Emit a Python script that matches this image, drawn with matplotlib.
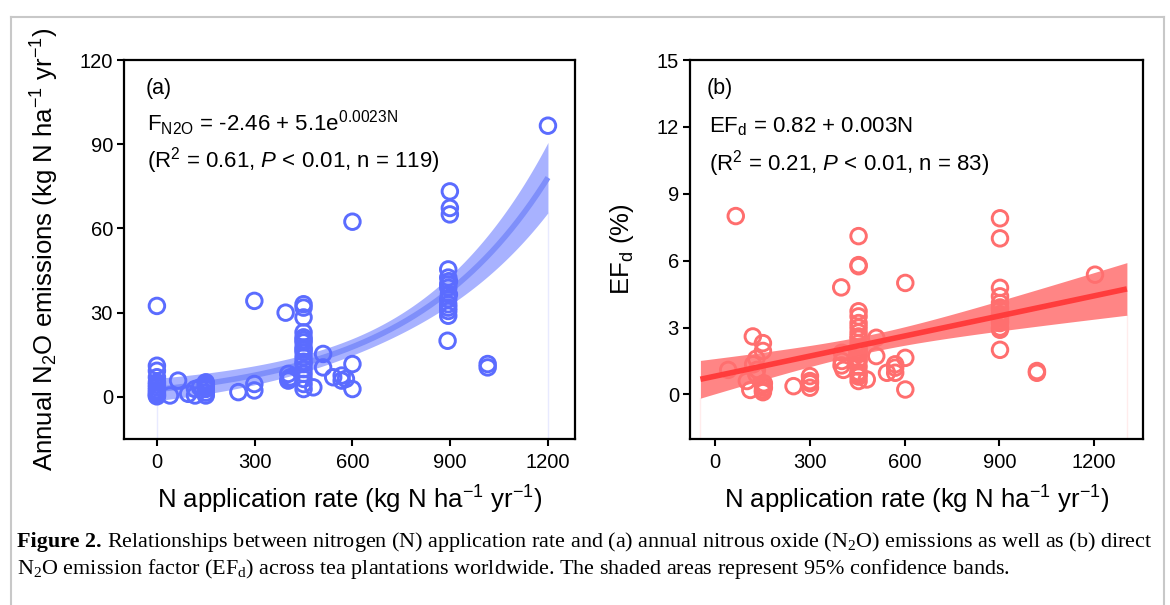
import numpy as np
import matplotlib
matplotlib.use("Agg")
import matplotlib.pyplot as plt
from matplotlib import font_manager as fm
from matplotlib.lines import Line2D

# ---------------- data ----------------
# (a) annual N2O emissions vs N rate
a_x = [0, 0, 0, 0, 0, 0, 0, 0, 0, 0, 0, 0,
       40, 65, 96, 117, 117, 132, 150, 150, 150, 150, 150, 150,
       250, 299, 299, 299,
       395, 403, 403, 410, 405,
       450, 450, 450, 450, 450, 450, 450, 450, 450, 450, 450, 450, 450, 450, 450, 450, 450, 450,
       480, 510, 510, 541, 567, 567, 580, 600, 600, 600,
       899, 899, 899, 894, 894, 894, 894, 894, 894, 894, 894, 894, 892, 896, 896,
       1015, 1015, 1200]
a_y = [32.4, 11.1, 9.3, 7.0, 5.2, 3.4, 1.7, 0.5, 0.2, 2.5, 4.3, 1.0,
       0.5, 5.8, 1.1, 2.8, 0.5, 3.4, 5.2, 2.8, 0.5, 4.3, 1.5, 3.6,
       1.7, 34.2, 4.6, 2.3,
       30.0, 8.2, 5.8, 7.0, 6.5,
       33.0, 31.8, 28.3, 23.0, 21.2, 19.4, 17.6, 15.9, 14.1, 11.7, 9.9, 8.2, 6.4, 4.6, 2.8, 12.5, 20.3, 16.8,
       3.4, 15.3, 10.5, 7.0, 7.6, 5.8, 6.4, 62.4, 11.7, 2.8,
       73.2, 67.3, 65.0, 45.4, 42.5, 40.1, 38.9, 34.8, 33.0, 31.8, 30.6, 28.9, 20.0, 36.5, 41.2,
       11.7, 10.5, 96.6]
a_coef = (-2.46, 5.1, 0.0023)   # F = a + b*exp(c*N)

# (b) direct emission factor EFd (%) vs N rate
b_x = [65, 41, 119, 151, 151, 120, 132, 100, 111, 151, 151, 151, 154, 154, 130, 130,
       248, 300, 300, 300, 300,
       399, 401, 401, 406, 400,
       454, 454, 454, 454, 454, 454, 454, 454, 454, 454, 454, 454, 454, 454, 454,
       454, 454, 454, 454, 454, 454, 454,
       480, 510, 510, 544, 570, 570, 570, 602, 602, 602,
       902, 902, 902, 902, 902, 902, 902, 902, 902, 902, 902, 902, 902, 902, 902,
       1019, 1019, 1203]
b_y = [8.0, 1.1, 2.6, 2.3, 1.95, 1.35, 1.1, 0.6, 0.2, 0.4, 0.2, 0.1, 0.3, 0.5, 0.9, 1.6,
       0.37, 0.82, 0.6, 0.3, 0.5,
       4.8, 1.87, 1.5, 1.1, 1.3,
       7.1, 5.8, 5.75, 3.73, 3.5, 3.2, 2.78, 2.5, 2.3, 2.0, 1.8, 1.5, 1.25, 0.9, 0.6,
       2.1, 2.6, 3.0, 1.9, 1.6, 1.0, 0.8,
       0.67, 2.54, 1.72, 0.97, 1.35, 0.97, 1.2, 5.0, 1.64, 0.22,
       7.9, 7.0, 4.78, 4.4, 4.1, 3.8, 3.5, 3.2, 3.0, 2.0, 3.3, 3.6, 3.4, 3.9, 2.9,
       0.97, 1.05, 5.37]
b_coef = (0.82, 0.003)          # EFd = a + b*N

x_ticks = [0, 300, 600, 900, 1200]
a_yticks = [0, 30, 60, 90, 120]
b_yticks = [0, 3, 6, 9, 12, 15]

# ---------------- fonts ----------------
names = {f.name for f in fm.fontManager.ttflist}
SANS = "Liberation Sans Narrow" if "Liberation Sans Narrow" in names else "Liberation Sans"
NARROW = SANS.endswith("Narrow")
SERIF = "Liberation Serif"
plt.rcParams["font.family"] = [SANS, "DejaVu Sans"]
plt.rcParams["mathtext.fontset"] = "custom"
plt.rcParams["mathtext.default"] = "regular"
plt.rcParams["mathtext.rm"] = SANS
plt.rcParams["mathtext.it"] = SANS + ":italic"
plt.rcParams["mathtext.bf"] = SERIF + ":bold"

tick_fs = 17.5 if NARROW else 14.5
eq_fs = 19.5 if NARROW else 16
lab_fs = 18 if NARROW else 15.5
xlab_fs = 22.5 if NARROW else 18.5
ylab_fs = 18.5

# ---------------- figure ----------------
W, H = 1170, 605
fig = plt.figure(figsize=(W / 100, H / 100), dpi=100)
ax1 = fig.add_axes([124 / W, 1 - 439 / H, 451 / W, 379 / H])
ax2 = fig.add_axes([690 / W, 1 - 439 / H, 453 / W, 379 / H])


def ci_halfwidth(x, y, basis, xs, t=1.98):
    x = np.asarray(x, float)
    y = np.asarray(y, float)
    X = basis(x)
    beta, *_ = np.linalg.lstsq(X, y, rcond=None)
    r = y - X @ beta
    s2 = (r @ r) / (len(y) - X.shape[1])
    cov = s2 * np.linalg.inv(X.T @ X)
    Xs = basis(xs)
    return t * np.sqrt(np.einsum("ij,jk,ik->i", Xs, cov, Xs))


def style(ax, xlim, ylim, yticks):
    ax.set_xlim(*xlim)
    ax.set_ylim(*ylim)
    ax.set_xticks(x_ticks)
    ax.set_yticks(yticks)
    for s in ax.spines.values():
        s.set_linewidth(1.6)
    ax.tick_params(direction="out", length=5, width=1.5, labelsize=tick_fs,
                   pad=3, top=False, right=False)
    ax.tick_params(axis="x", pad=5)


# ---- panel (a)
ca, cb, cc = a_coef
xs_a = np.linspace(0, 1200, 300)
fit_a = ca + cb * np.exp(cc * xs_a)
hw_a = ci_halfwidth(a_x, a_y, lambda v: np.column_stack([np.ones_like(v), np.exp(cc * v)]), xs_a)
ax1.fill_between(xs_a, fit_a - hw_a, fit_a + hw_a, color="#A8B2FF", lw=0, zorder=1)
ax1.plot([0, 0], [-15, fit_a[0] - hw_a[0]], color="#E8EAFF", lw=1, zorder=0.5)
ax1.plot([1200, 1200], [-15, fit_a[-1] - hw_a[-1]], color="#E8EAFF", lw=1, zorder=0.5)
ax1.scatter(a_x, a_y, s=125, facecolors="none", edgecolors="#5B6CFF", linewidths=2.1, zorder=3)
ax1.plot(xs_a, fit_a, color="#7F8FFA", lw=4, zorder=2, solid_capstyle="butt")
style(ax1, (-101, 1283), (-15, 120), a_yticks)
ax1.text(0.047, 0.926, "(a)", transform=ax1.transAxes, fontsize=lab_fs, va="center", ha="left")
ax1.text(0.05, 0.834, r"F$_{N2O}$ = -2.46 + 5.1e$^{0.0023N}$", transform=ax1.transAxes,
         fontsize=eq_fs, va="center", ha="left")
ax1.text(0.05, 0.736, r"(R$^2$ = 0.61, $\mathit{P}$ < 0.01, n = 119)", transform=ax1.transAxes,
         fontsize=eq_fs, va="center", ha="left")
ax1.set_xlabel(r"N application rate (kg N ha$^{-1}$ yr$^{-1}$)", fontsize=xlab_fs)
ax1.set_ylabel(r"Annual N$_2$O emissions (kg N ha$^{-1}$ yr$^{-1}$)", fontsize=ylab_fs,
               family=["Liberation Sans", "DejaVu Sans"])

# ---- panel (b)
ea, eb = b_coef
xs_b = np.linspace(-47, 1304, 300)
fit_b = ea + eb * xs_b
hw_b = ci_halfwidth(b_x, b_y, lambda v: np.column_stack([np.ones_like(v), v]), xs_b)
ax2.scatter(b_x, b_y, s=125, facecolors="none", edgecolors="#FF6E6E", linewidths=2.1, zorder=1)
ax2.fill_between(xs_b, fit_b - hw_b, fit_b + hw_b, color="#FF7070", alpha=0.85, lw=0, zorder=2)
ax2.plot([-47, -47], [-2, fit_b[0] - hw_b[0]], color="#FFECEC", lw=1, zorder=0.5)
ax2.plot([1304, 1304], [-2, fit_b[-1] - hw_b[-1]], color="#FFECEC", lw=1, zorder=0.5)
ax2.plot(xs_b, fit_b, color="#FF3C3C", lw=4, zorder=3, solid_capstyle="butt")
style(ax2, (-80, 1355), (-2, 15), b_yticks)
ax2.text(0.0375, 0.926, "(b)", transform=ax2.transAxes, fontsize=lab_fs, va="center", ha="left")
ax2.text(0.042, 0.823, r"EF$_d$ = 0.82 + 0.003N", transform=ax2.transAxes,
         fontsize=eq_fs, va="center", ha="left")
ax2.text(0.042, 0.728, r"(R$^2$ = 0.21, $\mathit{P}$ < 0.01, n = 83)", transform=ax2.transAxes,
         fontsize=eq_fs, va="center", ha="left")
ax2.set_xlabel(r"N application rate (kg N ha$^{-1}$ yr$^{-1}$)", fontsize=xlab_fs)
ax2.set_ylabel(r"EF$_d$ (%)", fontsize=ylab_fs, family=["Liberation Sans", "DejaVu Sans"])

for ax, ylx in ((ax1, -0.175), (ax2, -0.150)):
    ax.xaxis.label.set_va("center")
    ax.xaxis.set_label_coords(0.5, -0.161)
    ax.yaxis.label.set_va("center")
    ax.yaxis.set_label_coords(ylx, 0.5)

# ---------------- caption ----------------
cap_bold = "Figure 2."
cap1 = (r"Relationships between nitrogen (N) application rate and (a) annual "
        r"nitrous oxide (N$_2$O) emissions as well as (b) direct")
cap2 = (r"N$_2$O emission factor (EF$_d$) across tea plantations worldwide. "
        r"The shaded areas represent 95% confidence bands.")
y1, y2 = 1 - 547 / H, 1 - 574 / H


def draw_caption(fs):
    tb = fig.text(17 / W, y1, cap_bold, family=SERIF, weight="bold", fontsize=fs,
                  va="baseline", ha="left")
    tr = fig.text(0, 0, "", family=SERIF, fontsize=fs)
    tr.remove()
    ta = ax1.annotate(cap1, xy=(1, y1), xycoords=(tb, "figure fraction"),
                      xytext=(fs * 0.25, 0), textcoords="offset points",
                      family=SERIF, fontsize=fs, va="baseline", ha="left",
                      annotation_clip=False)
    t2 = fig.text(17 / W, y2, cap2, family=SERIF, fontsize=fs, va="baseline", ha="left")
    return tb, ta, t2


fs0 = 14.5
tb, ta, t2 = draw_caption(fs0)
fig.canvas.draw()
rend = fig.canvas.get_renderer()
right = ta.get_window_extent(rend).x1
scale = (1150 - 17) / (right - 17)
for t in (tb, ta, t2):
    t.remove()
draw_caption(fs0 * scale)

# ---------------- outer frame ----------------
fx0, fx1, fy0 = 11 / W, 1164 / W, 1 - 17 / H
for xd, yd in (([fx0, fx0], [0, fy0]), ([fx0, fx1], [fy0, fy0]), ([fx1, fx1], [fy0, 0])):
    fig.add_artist(Line2D(xd, yd, transform=fig.transFigure, color="#C8C8C8", lw=1.5))

fig.savefig("out.png", dpi=100)
